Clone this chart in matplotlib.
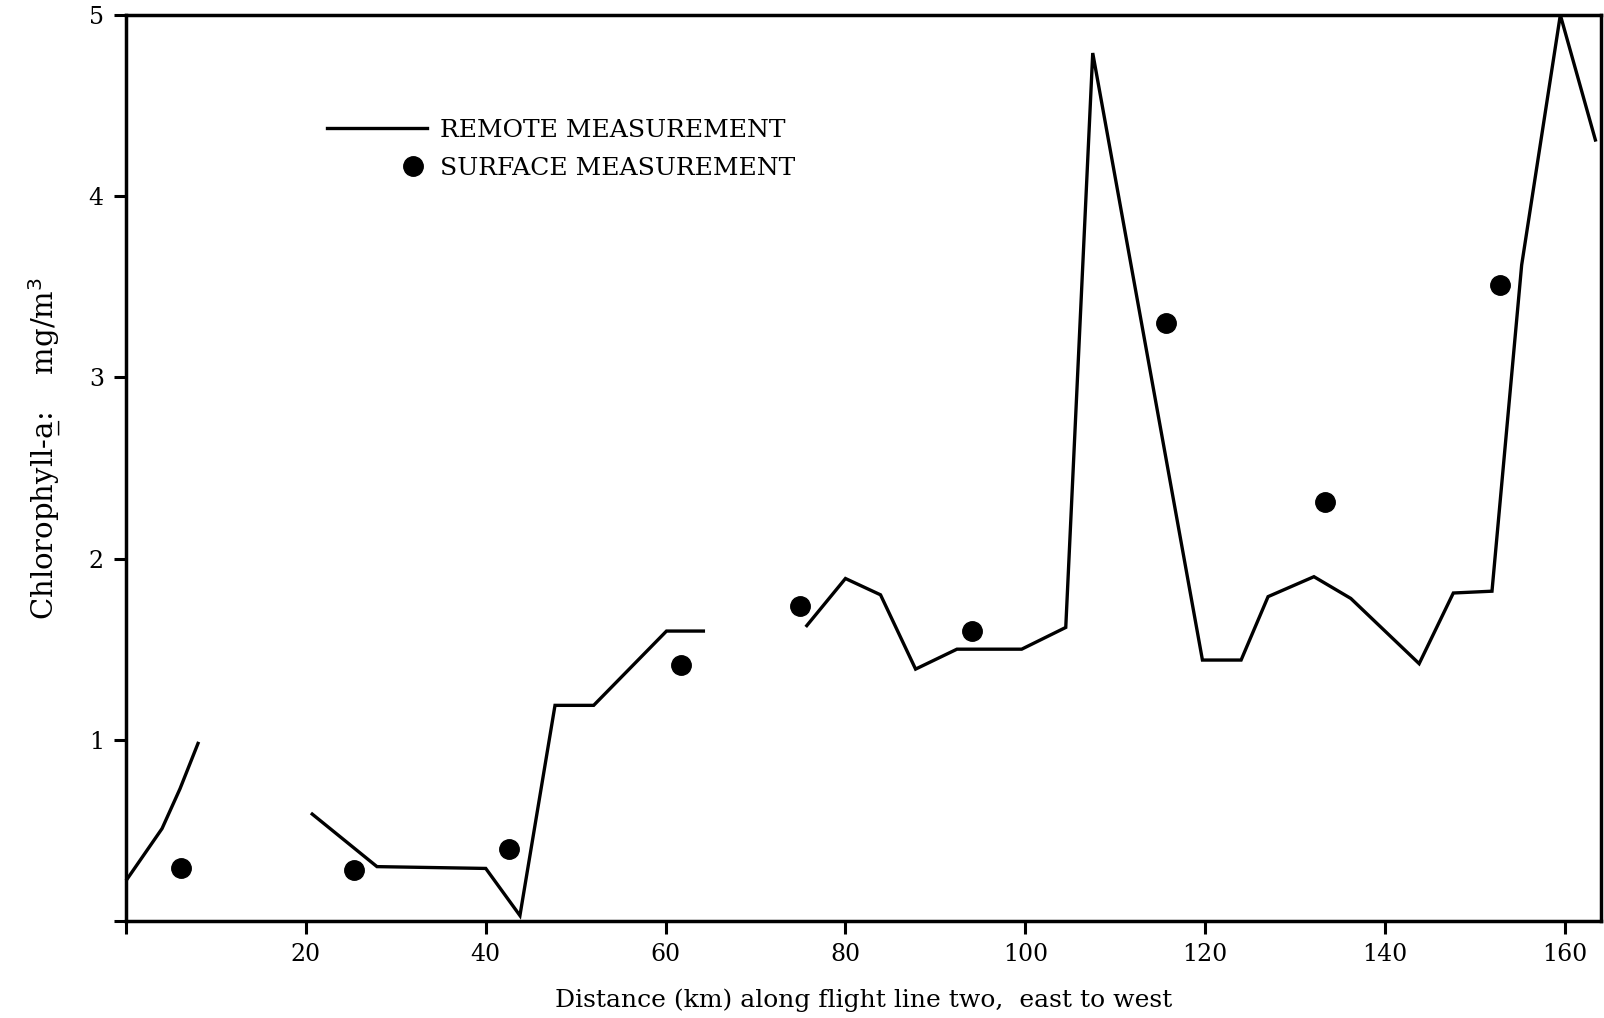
# 航測クロロフィル図の再現

import numpy as np
import matplotlib
matplotlib.use("Agg")
import matplotlib.pyplot as plt
from matplotlib.lines import Line2D
from matplotlib.legend_handler import HandlerLine2D


# リモート測定（3区間に分かれている）
REMOTE_X_1 = [0.1, 4.0, 6.0, 8.0]
REMOTE_Y_1 = [0.23, 0.51, 0.73, 0.98]
REMOTE_X_2 = [20.7, 27.9, 40.0, 43.8, 47.7, 52.0, 60.1, 64.2]
REMOTE_Y_2 = [0.59, 0.30, 0.29, 0.03, 1.19, 1.19, 1.60, 1.60]
REMOTE_X_3 = [75.7, 80.0, 83.9, 87.8, 92.4, 99.6, 104.5, 107.5, 119.7, 124.0,
              127.0, 132.1, 136.2, 143.8, 147.6, 151.9, 155.2, 159.5, 163.4]
REMOTE_Y_3 = [1.63, 1.89, 1.80, 1.39, 1.50, 1.50, 1.62, 4.79, 1.44, 1.44,
              1.79, 1.90, 1.78, 1.42, 1.81, 1.82, 3.62, 5.00, 4.31]

# 表面測定
SURFACE_X = [6.1, 25.3, 42.6, 61.7, 74.9, 94.1, 115.7, 133.3, 152.8]
SURFACE_Y = [0.29, 0.28, 0.40, 1.41, 1.74, 1.60, 3.30, 2.31, 3.51]

X_TICKS = [0, 20, 40, 60, 80, 100, 120, 140, 160]
X_TICK_LABELS = ["", "20", "40", "60", "80", "100", "120", "140", "160"]
Y_TICKS = [0, 1, 2, 3, 4, 5]
Y_TICK_LABELS = ["", "1", "2", "3", "4", "5"]

FONT = "DejaVu Serif"
FILE_NAME = "out.png"


class RightDotHandler(HandlerLine2D):
    """凡例の点を右寄せにする（中央の点に印が付くので範囲をずらす）"""

    def get_xdata(self, legend, xdescent, ydescent, width, height, fontsize):
        xdata = np.array([-xdescent + width * 0.72, -xdescent + width])
        return xdata, [xdata.mean()]


def main():
    fig = plt.figure(figsize=(16.04, 10.18), dpi=100)
    ax = fig.add_axes([0.0786, 0.0953, 0.9194, 0.8900])

    for xs, ys in [(REMOTE_X_1, REMOTE_Y_1), (REMOTE_X_2, REMOTE_Y_2),
                   (REMOTE_X_3, REMOTE_Y_3)]:
        ax.plot(xs, ys, color="black", lw=2.4, solid_joinstyle="miter",
                clip_on=False)

    ax.plot(SURFACE_X, SURFACE_Y, ls="none", marker="o", ms=14,
            color="black")

    ax.set_xlim(0, 164)
    ax.set_ylim(0, 5)

    ax.set_xticks(X_TICKS)
    ax.set_xticklabels(X_TICK_LABELS)
    ax.set_yticks(Y_TICKS)
    ax.set_yticklabels(Y_TICK_LABELS)
    ax.tick_params(direction="out", length=9, width=2.2, labelsize=17,
                   pad=7)
    for lab in ax.get_xticklabels() + ax.get_yticklabels():
        lab.set_family(FONT)

    for sp in ax.spines.values():
        sp.set_linewidth(2.5)

    ax.set_xlabel("Distance (km) along flight line two,  east to west",
                  family=FONT, fontsize=18, labelpad=16)
    ax.set_ylabel("Chlorophyll-a\u0332:    mg/m$^3$", family=FONT,
                  fontsize=21)
    ax.yaxis.set_label_coords(-0.043, 0.522)

    h_remote = Line2D([], [], color="black", lw=2.4)
    h_surface = Line2D([], [], ls="none", marker="o", ms=14, color="black")
    ax.legend([h_remote, h_surface],
              ["REMOTE MEASUREMENT", "SURFACE MEASUREMENT"],
              loc="center left", bbox_to_anchor=(0.136, 0.852),
              frameon=False, borderpad=0, borderaxespad=0,
              handlelength=4.0, handletextpad=0.55, labelspacing=0.6,
              prop={"family": FONT, "size": 18},
              handler_map={h_surface: RightDotHandler()})

    fig.savefig(FILE_NAME, dpi=100)


if __name__ == "__main__":
    main()
